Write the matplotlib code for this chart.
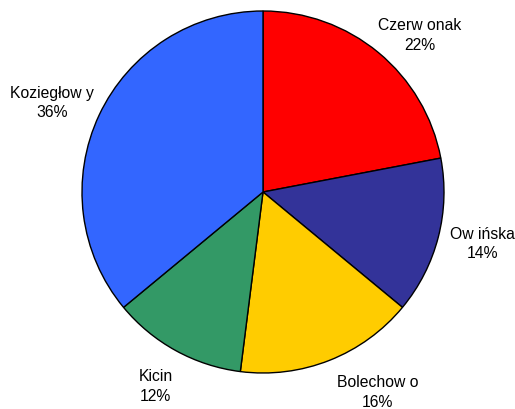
import numpy as np
import matplotlib.pyplot as plt

names = ['Czerw onak', 'Ow ińska', 'Bolechow o', 'Kicin', 'Koziegłow y']
shares = [22, 14, 16, 12, 36]
colors = ['#FF0000', '#333399', '#FFCC00', '#339966', '#3366FF']
# label shift (px) from the wedge's outer mid point
label_shift = [(41, 18), (44, -6), (48, -31), (-20, -35), (-47, 13)]

plt.rcParams['font.family'] = ['Liberation Sans', 'DejaVu Sans']

fig = plt.figure(figsize=(5.15, 4.10), dpi=100)
# square axes around the pie, center ~ (263, 193) px, radius ~181 px
r_px = 181
ax = fig.add_axes([(263 - r_px) / 515, (217 - r_px) / 410, 2 * r_px / 515, 2 * r_px / 410])

wedges, _ = ax.pie(shares, colors=colors, startangle=90, counterclock=False,
                   wedgeprops=dict(edgecolor='black', linewidth=1.0))

for w, n, s, (dx, dy) in zip(wedges, names, shares, label_shift):
    mid = np.deg2rad((w.theta1 + w.theta2) / 2)
    ax.annotate(f'{n}\n{s}%', xy=(np.cos(mid), np.sin(mid)), xytext=(dx, dy),
                textcoords='offset pixels', ha='center', va='center',
                fontsize=11.3, linespacing=1.4)

ax.set_xlim(-1, 1)
ax.set_ylim(-1, 1)
ax.set_aspect('auto')
ax.axis('off')

fig.savefig('out.png', dpi=100)
